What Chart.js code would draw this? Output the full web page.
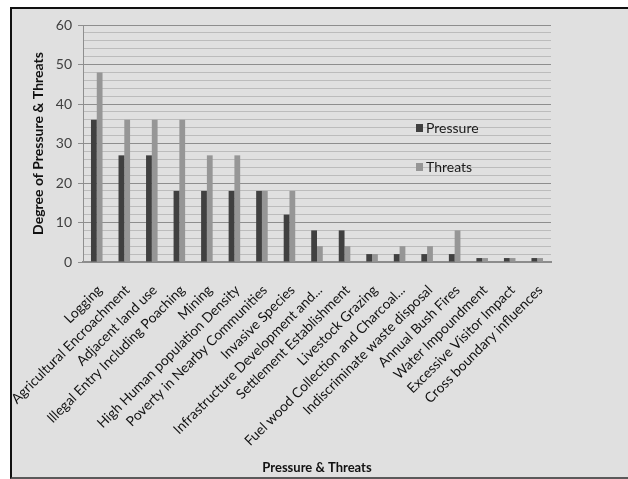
<!DOCTYPE html>
<html>
<head>
<meta charset="utf-8">
<script src="https://cdn.jsdelivr.net/npm/chart.js@4/dist/chart.umd.min.js"></script>
<style>
  html, body { margin: 0; padding: 0; background: #ffffff; }
  body { width: 628px; height: 479px; position: relative; overflow: hidden; }
  #frame {
    position: absolute; left: 10px; top: 7px; width: 640px; height: 468px;
    background: #e0e0e0; border-left: 2px solid #111; border-top: 2px solid #111;
    border-bottom: 2px solid #5a5a5a;
  }
  #wrap { position: absolute; left: 0; top: 0; width: 628px; height: 479px; }
</style>
</head>
<body>
<div id="frame"></div>
<div id="wrap"><canvas id="chart" width="628" height="479"></canvas></div>
<script>
// Pressures and threats recorded for each category
const categories = [
  "Logging",
  "Agricultural Encroachment",
  "Adjacent land use",
  "Illegal Entry Including Poaching",
  "Mining",
  "High Human population Density",
  "Poverty in Nearby Communities",
  "Invasive Species",
  "Infrastructure Development and...",
  "Settlement Establishment",
  "Livestock Grazing",
  "Fuel wood Collection and Charcoal...",
  "Indiscriminate waste disposal",
  "Annual Bush Fires",
  "Water Impoundment",
  "Excessive Visitor Impact",
  "Cross boundary influences"
];
const pressure = [36, 27, 27, 18, 18, 18, 18, 12, 8, 8, 2, 2, 2, 2, 1, 1, 1];
const threats  = [48, 36, 36, 36, 27, 27, 18, 18, 4, 4, 2, 4, 4, 8, 1, 1, 1];
const yTicks = [0, 10, 20, 30, 40, 50, 60];

const FONT = "Lato, 'Open Sans', sans-serif";

// Legend drawn inside the plot, right of centre
const innerLegend = {
  id: 'innerLegend',
  afterDraw(chart) {
    const ctx = chart.ctx;
    const x = 416, ys = [128, 167];
    ctx.save();
    ctx.font = "14px " + FONT;
    ctx.textBaseline = 'middle';
    chart.data.datasets.forEach((ds, i) => {
      const y = ys[i];
      ctx.fillStyle = ds.backgroundColor;
      ctx.fillRect(x, y - 4, 7, 8);
      ctx.fillStyle = '#1a1a1a';
      ctx.fillText(ds.label, x + 10, y);
    });
    ctx.restore();
  }
};

new Chart(document.getElementById('chart'), {
  type: 'bar',
  data: {
    labels: categories,
    datasets: [
      { label: 'Pressure', data: pressure, backgroundColor: '#404040',
        categoryPercentage: 0.42, barPercentage: 1.0 },
      { label: 'Threats', data: threats, backgroundColor: '#969696',
        categoryPercentage: 0.42, barPercentage: 1.0 }
    ]
  },
  options: {
    responsive: false,
    animation: false,
    layout: { padding: { left: 30, top: 25, right: 77, bottom: 2 } },
    plugins: {
      legend: { display: false },
      tooltip: { enabled: false }
    },
    scales: {
      x: {
        grid: { display: false, drawTicks: false },
        border: { color: '#8c8c8c', width: 2 },
        ticks: {
          autoSkip: false, minRotation: 45, maxRotation: 45,
          color: '#111111', font: { family: FONT, size: 13.8 }, padding: 20,
          labelOffset: 3
        },
        title: {
          display: true, text: 'Pressure & Threats', color: '#111111',
          font: { family: FONT, size: 13, weight: 'bold' }, padding: { top: 0, bottom: 1 }
        },
        afterFit(scale) { scale.height = 479 - 262 - 2; }
      },
      y: {
        min: 0, max: 60,
        afterBuildTicks(scale) {
          // minor rules every 2 units, labels on the tens
          const t = [];
          for (let v = 0; v <= 60; v += 2) t.push({ value: v });
          scale.ticks = t;
        },
        grid: {
          color: ctx => (yTicks.includes(ctx.tick.value) ? '#8e8e8e' : '#bcbcbc'),
          tickColor: ctx => (yTicks.includes(ctx.tick.value) ? '#8e8e8e' : 'rgba(0,0,0,0)'),
          tickLength: 5, lineWidth: 1
        },
        border: { color: '#8e8e8e', width: 1 },
        ticks: {
          autoSkip: false,
          color: '#404040', font: { family: FONT, size: 14 }, padding: 6,
          callback: v => (yTicks.includes(v) ? String(v) : '')
        },
        title: {
          display: true, text: 'Degree of Pressure & Threats', color: '#111111',
          font: { family: FONT, size: 14, weight: 'bold' }, padding: { top: 0, bottom: 3 }
        },
        afterFit(scale) { scale.width = 83 - 30; }
      }
    }
  },
  plugins: [innerLegend]
});
</script>
</body>
</html>
